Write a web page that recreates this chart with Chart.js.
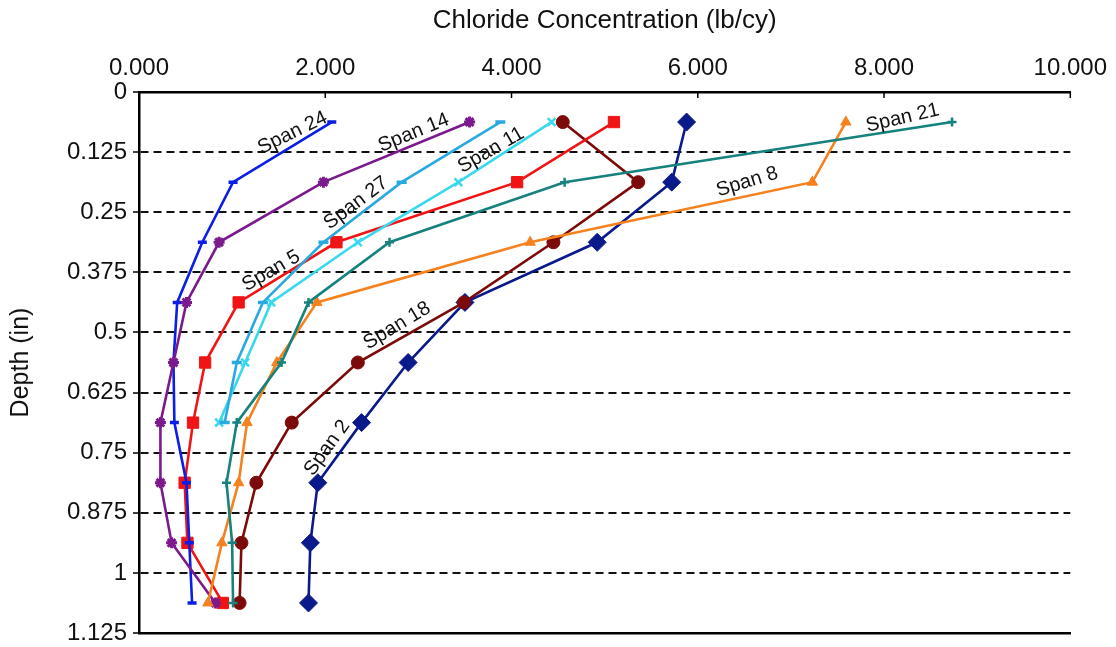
<!DOCTYPE html>
<html>
<head>
<meta charset="utf-8">
<script src="https://cdn.jsdelivr.net/npm/chart.js@4.4.1/dist/chart.umd.min.js"></script>
<style>
  html, body { margin: 0; padding: 0; background: #fff; }
  #wrap { width: 1116px; height: 647px; }
</style>
</head>
<body>
<div id="wrap"><canvas id="myChart"></canvas></div>
<script>
// depths where samples were taken (in)
var depths = [0.0625, 0.1875, 0.3125, 0.4375, 0.5625, 0.6875, 0.8125, 0.9375, 1.0625];

// chloride concentration (lb/cy) per span, top to bottom
var span2  = [5.88, 5.72, 4.92, 3.50, 2.89, 2.39, 1.92, 1.84, 1.82];
var span5  = [5.10, 4.06, 2.12, 1.07, 0.71, 0.58, 0.49, 0.52, 0.90];
var span8  = [7.59, 7.23, 4.20, 1.91, 1.48, 1.16, 1.07, 0.89, 0.74];
var span11 = [4.43, 3.43, 2.35, 1.42, 1.14, 0.86];
var span14 = [3.55, 1.98, 0.86, 0.51, 0.37, 0.23, 0.23, 0.35, 0.82];
var span18 = [4.55, 5.36, 4.45, 3.49, 2.35, 1.64, 1.26, 1.10, 1.08];
var span21 = [8.73, 4.57, 2.69, 1.82, 1.53, 1.05, 0.94, 1.00, 1.01];
var span24 = [2.07, 1.01, 0.68, 0.41, 0.37, 0.38, 0.51, 0.54, 0.57];
var span27 = [3.88, 2.82, 1.98, 1.33, 1.05, 0.92];

var xTickLabels = ['0.000', '2.000', '4.000', '6.000', '8.000', '10.000'];
var yTickLabels = ['0', '0.125', '0.25', '0.375', '0.5', '0.625', '0.75', '0.875', '1', '1.125'];

// text labels written on the lines: [text, x value, depth, angle]
var spanLabels = [
    ['Span 24', 1.65, 0.085, -26],
    ['Span 14', 2.95, 0.085, -22],
    ['Span 11', 3.78, 0.121, -30],
    ['Span 27', 2.33, 0.231, -37],
    ['Span 5', 1.42, 0.372, -30],
    ['Span 18', 2.77, 0.486, -31],
    ['Span 2', 2.02, 0.740, -54],
    ['Span 8', 6.53, 0.187, -17],
    ['Span 21', 8.20, 0.054, -13]
];

function pts(values) {
    return values.map(function (v, i) { return { x: v, y: depths[i] }; });
}

function series(label, values, color, style, radius, bw) {
    return {
        label: label,
        data: pts(values),
        showLine: true,
        borderColor: color,
        backgroundColor: color,
        borderWidth: 2.6,
        pointStyle: style,
        pointRadius: radius,
        pointBorderWidth: bw,
        pointBorderColor: color,
        pointBackgroundColor: color
    };
}

var innerTicks = {
    id: 'innerTicks',
    afterDraw: function (chart) {
        var ctx = chart.ctx;
        var xs = chart.scales.x;
        var top = chart.chartArea.top;
        ctx.save();
        ctx.strokeStyle = '#000';
        ctx.lineWidth = 1.5;
        for (var v = 0; v <= 10; v += 2) {
            var px = xs.getPixelForValue(v);
            ctx.beginPath();
            ctx.moveTo(px, top);
            ctx.lineTo(px, top + 6);
            ctx.stroke();
        }
        ctx.restore();
    }
};

var lineLabels = {
    id: 'lineLabels',
    afterDatasetsDraw: function (chart) {
        var ctx = chart.ctx;
        ctx.save();
        ctx.font = '20px "Liberation Sans", Arial, sans-serif';
        ctx.fillStyle = '#111';
        ctx.textAlign = 'center';
        ctx.textBaseline = 'middle';
        spanLabels.forEach(function (l) {
            var px = chart.scales.x.getPixelForValue(l[1]);
            var py = chart.scales.y.getPixelForValue(l[2]);
            ctx.save();
            ctx.translate(px, py);
            ctx.rotate(l[3] * Math.PI / 180);
            ctx.fillText(l[0], 0, 0);
            ctx.restore();
        });
        ctx.restore();
    }
};

Chart.defaults.font.family = '"Liberation Sans", Arial, sans-serif';
Chart.defaults.color = '#222';

var ctx = document.getElementById('myChart').getContext('2d');
var chart = new Chart(ctx, {
    type: 'scatter',
    data: {
        datasets: [
            series('Span 21', span21, '#16827e', 'cross', 4.5, 2.5),
            series('Span 8', span8, '#f5821f', 'triangle', 6, 1),
            series('Span 27', span27, '#2aa8e0', 'line', 5, 3.5),
            series('Span 11', span11, '#3ad8ee', 'crossRot', 5.5, 2.5),
            series('Span 14', span14, '#7a1a8c', 'star', 5.5, 3),
            series('Span 24', span24, '#0a1ee6', 'line', 4.5, 3.5),
            series('Span 5', span5, '#f01414', 'rect', 8, 1),
            series('Span 18', span18, '#7d0a0a', 'circle', 6.5, 1),
            series('Span 2', span2, '#0b1a8a', 'rectRot', 9, 1)
        ]
    },
    options: {
        responsive: true,
        maintainAspectRatio: false,
        animation: false,
        layout: { padding: { left: 0, right: 45, top: 0, bottom: 0 } },
        plugins: {
            legend: { display: false },
            tooltip: { enabled: false }
        },
        scales: {
            x: {
                type: 'linear',
                position: 'top',
                min: 0,
                max: 10,
                afterFit: function (s) { s.height = 92; },
                ticks: {
                    stepSize: 2,
                    padding: 9,
                    font: { size: 24 },
                    color: '#111',
                    callback: function (v) { return xTickLabels[Math.round(v / 2)]; }
                },
                grid: { display: true, drawOnChartArea: false, drawTicks: false },
                border: { color: '#000', width: 2.5 },
                title: {
                    display: true,
                    text: 'Chloride Concentration (lb/cy)',
                    font: { size: 26 },
                    color: '#111',
                    padding: { top: 5, bottom: 0 }
                }
            },
            x2: {
                type: 'linear',
                position: 'bottom',
                min: 0,
                max: 10,
                afterFit: function (s) { s.height = 14; },
                ticks: { display: false },
                grid: { display: false },
                border: { color: '#000', width: 2.5 }
            },
            y: {
                type: 'linear',
                reverse: true,
                min: 0,
                max: 1.125,
                afterFit: function (s) { s.width = 139; },
                ticks: {
                    stepSize: 0.125,
                    padding: 6,
                    font: { size: 24, lineHeight: 0.6 },
                    color: '#111',
                    callback: function (v) { return yTickLabels[Math.round(v / 0.125)]; }
                },
                grid: {
                    color: function (c) {
                        if (c.tick && (c.tick.value === 0 || c.tick.value === 1.125)) return 'rgba(0,0,0,0)';
                        return '#111';
                    },
                    lineWidth: 2,
                    tickColor: '#000',
                    tickLength: 6,
                    tickWidth: 1.5,
                    tickBorderDash: []
                },
                border: { color: '#000', width: 2.5, dash: [8, 5] },
                title: {
                    display: true,
                    text: 'Depth (in)',
                    font: { size: 25 },
                    color: '#111',
                    padding: { top: 6, bottom: 0 }
                }
            }
        }
    },
    plugins: [innerTicks, lineLabels]
});
</script>
</body>
</html>
